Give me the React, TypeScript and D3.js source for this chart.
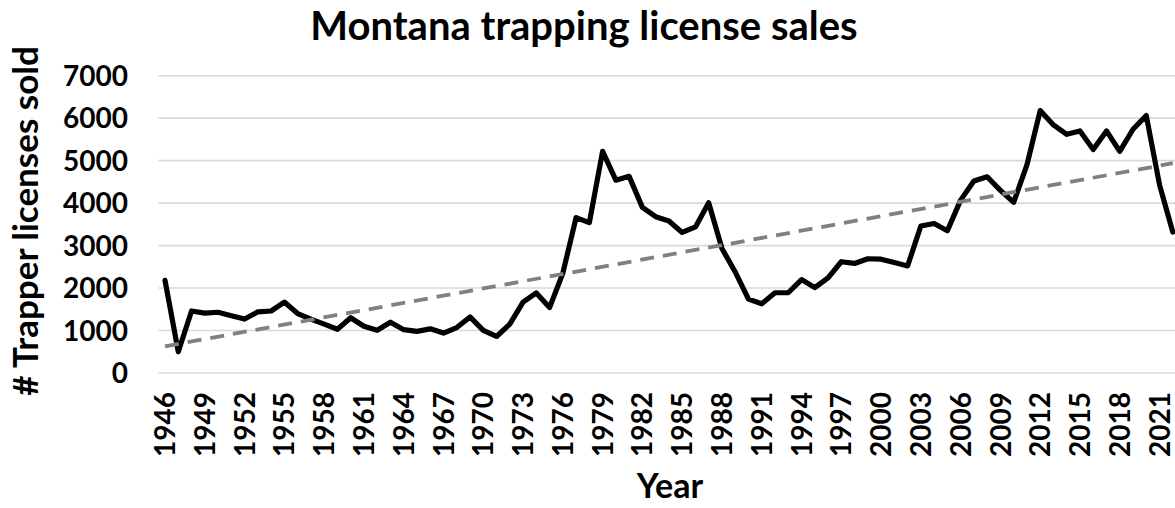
import React from "react";
import * as d3 from "d3";

const title = "Montana trapping license sales";
const yAxisTitle = "# Trapper licenses sold";
const xAxisTitle = "Year";

const years: number[] = d3.range(1946, 2023);
const licenses: number[] = [
  2180, 500, 1460, 1410, 1430, 1350, 1270, 1440, 1460, 1670,
  1400, 1270, 1150, 1030, 1300, 1100, 1005, 1195, 1020, 980,
  1040, 940, 1070, 1320, 1005, 860, 1150, 1670, 1885, 1540,
  2350, 3660, 3540, 5220, 4540, 4630, 3900, 3680, 3580, 3310,
  3440, 4010, 2930, 2380, 1740, 1630, 1890, 1890, 2200, 2010,
  2240, 2620, 2580, 2690, 2680, 2600, 2520, 3460, 3520, 3350,
  4070, 4520, 4620, 4300, 4020, 4900, 6180, 5840, 5620, 5700,
  5260, 5700, 5220, 5740, 6060, 4430, 3320,
];
const xTickLabels: number[] = [
  1946, 1949, 1952, 1955, 1958, 1961, 1964, 1967, 1970, 1973, 1976, 1979, 1982,
  1985, 1988, 1991, 1994, 1997, 2000, 2003, 2006, 2009, 2012, 2015, 2018, 2021,
];
const yTicks: number[] = [0, 1000, 2000, 3000, 4000, 5000, 6000, 7000];

const W = 1175;
const H = 508;
const plotLeft = 158.4;
const band = 13.26;
const plotRight = plotLeft + band * years.length;
const yTop = 75.7;
const yBottom = 373;
const FONT = "Lato, 'Open Sans', sans-serif";

export default function App() {
  const x = d3
    .scaleBand<number>()
    .domain(years)
    .range([plotLeft, plotRight])
    .padding(0);
  const cx = (yr: number) => (x(yr) as number) + x.bandwidth() / 2;
  const y = d3.scaleLinear().domain([0, 7000]).range([yBottom, yTop]);

  const line = d3
    .line<number>()
    .x((_, i) => cx(years[i]))
    .y((d) => y(d));

  // Linear trendline (least squares on category index, like Excel)
  const idx = licenses.map((_, i) => i + 1);
  const mx = d3.mean(idx) as number;
  const my = d3.mean(licenses) as number;
  let sxy = 0;
  let sxx = 0;
  idx.forEach((xi, i) => {
    sxy += (xi - mx) * (licenses[i] - my);
    sxx += (xi - mx) * (xi - mx);
  });
  const slope = sxy / sxx;
  const intercept = my - slope * mx;
  const tStart = intercept + slope * 1;
  const tEnd = intercept + slope * licenses.length;

  return (
    <svg
      width={W}
      height={H}
      style={{ position: "absolute", left: 0, top: 0, background: "#fff" }}
      fontFamily={FONT}
    >
      <rect x={0} y={0} width={W} height={H} fill="#fff" />
      <text
        x={584}
        y={40}
        textAnchor="middle"
        fontWeight="bold"
        fontSize={40}
        fill="#000"
      >
        {title}
      </text>
      {yTicks.map((t) => (
        <g key={t}>
          <line
            x1={plotLeft}
            x2={plotRight}
            y1={y(t)}
            y2={y(t)}
            stroke="#d9d9d9"
            strokeWidth={1.6}
          />
          <text
            x={128}
            y={y(t)}
            dy="0.36em"
            textAnchor="end"
            fontWeight="bold"
            fontSize={28}
            fill="#000"
          >
            {t}
          </text>
        </g>
      ))}
      <path
        d={line(licenses) || ""}
        fill="none"
        stroke="#000"
        strokeWidth={5.2}
        strokeLinejoin="round"
        strokeLinecap="round"
      />
      <line
        x1={cx(years[0])}
        x2={cx(years[years.length - 1])}
        y1={y(tStart)}
        y2={y(tEnd)}
        stroke="#808080"
        strokeWidth={3.8}
        strokeDasharray="14 9"
      />
      {xTickLabels.map((yr) => (
        <text
          key={yr}
          transform={`translate(${cx(yr)},392) rotate(-90)`}
          dy="0.36em"
          textAnchor="end"
          fontWeight="bold"
          fontSize={28}
          fill="#000"
        >
          {yr}
        </text>
      ))}
      <text
        x={670}
        y={498}
        textAnchor="middle"
        fontWeight="bold"
        fontSize={34}
        fill="#000"
      >
        {xAxisTitle}
      </text>
      <text
        transform={`translate(38,221) rotate(-90)`}
        textAnchor="middle"
        fontWeight="bold"
        fontSize={35}
        fill="#000"
      >
        {yAxisTitle}
      </text>
    </svg>
  );
}
